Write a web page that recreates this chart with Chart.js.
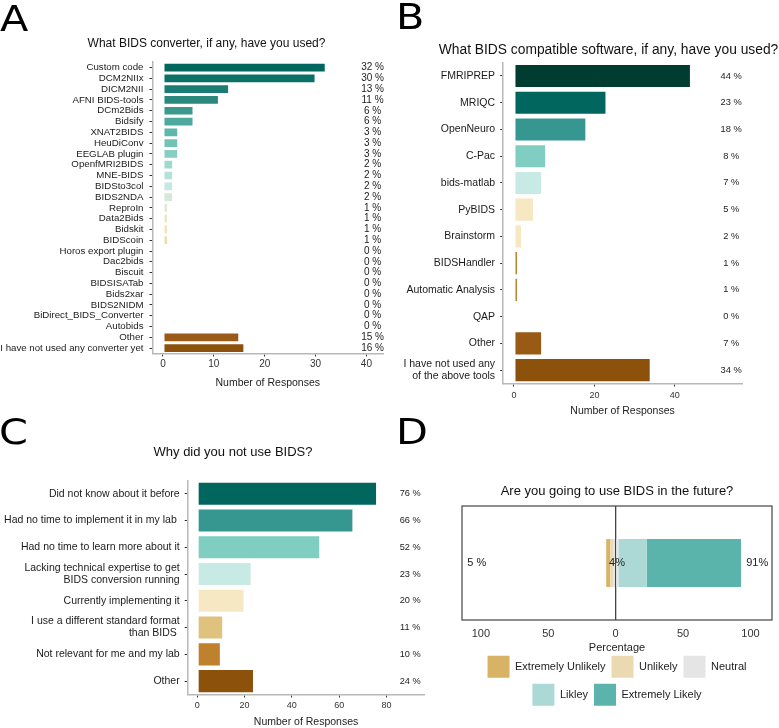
<!DOCTYPE html>
<html><head><meta charset="utf-8">
<script src="https://cdn.jsdelivr.net/npm/chart.js@4.4.1/dist/chart.umd.min.js"></script>
<style>
html,body{margin:0;padding:0;background:#fff;overflow:hidden;width:779px;height:728px;}
#wrap{position:relative;width:779px;height:728px;overflow:hidden;}
canvas{position:absolute;}
.lbl{position:absolute;font-family:"DejaVu Sans",sans-serif;font-size:36px;line-height:36px;color:#000;transform:scaleX(1.15);transform-origin:left top;}
</style></head><body>
<div id="wrap">
<canvas id="cA" width="413" height="395" style="left:0;top:0"></canvas>
<canvas id="cC" width="466" height="328" style="left:0;top:400px"></canvas>
<canvas id="cB" width="437" height="418" style="left:390px;top:0"></canvas>
<canvas id="cD" width="339" height="258" style="left:440px;top:470px"></canvas>
<div class="lbl" style="left:0px;top:1px">A</div>
<div class="lbl" style="left:396px;top:-1px">B</div>
<div class="lbl" style="left:-1px;top:414px">C</div>
<div class="lbl" style="left:396px;top:414px">D</div>
</div>
<script>
// ---------- DATA ----------
const convCategories = ["Custom code","DCM2NIIx","DICM2NII","AFNI BIDS-tools","DCm2Bids","Bidsify","XNAT2BIDS","HeuDiConv","EEGLAB plugin","OpenfMRI2BIDS","MNE-BIDS","BIDSto3col","BIDS2NDA","ReproIn","Data2Bids","Bidskit","BIDScoin","Horos export plugin","Dac2bids","Biscuit","BIDSISATab","Bids2xar","BIDS2NIDM","BiDirect_BIDS_Converter","Autobids","Other","I have not used any converter yet"];
const convCounts  = [32,30,13,11,6,6,3,3,3,2,2,2,2,1,1,1,1,0,0,0,0,0,0,0,0,15,16];
const convPercent = [32,30,13,11,6,6,3,3,3,2,2,2,2,1,1,1,1,0,0,0,0,0,0,0,0,15,16];
const convTicks = [0,10,20,30,40];

const softCategories = ["FMRIPREP","MRIQC","OpenNeuro","C-Pac","bids-matlab","PyBIDS","Brainstorm","BIDSHandler","Automatic Analysis","QAP","Other",["I have not used any","of the above tools"]];
const softCounts  = [44,23,18,8,7,5,2,1,1,0,7,34];
const softPercent = [44,23,18,8,7,5,2,1,1,0,7,34];
const softTicks = [0,20,40];

const whyCategories = ["Did not know about it before","Had no time to implement it in my lab ","Had no time to learn more about it",["Lacking technical expertise to get","BIDS conversion running"],"Currently implementing it",["I use a different standard format","than BIDS "],"Not relevant for me and my lab","Other"];
const whyCounts  = [76,66,52,23,20,11,10,24];
const whyPercent = [76,66,52,23,20,11,10,24];
const whyTicks = [0,20,40,60,80];

const futureLevels = ["Extremely Unlikely","Unlikely","Neutral","Likley","Extremely Likely"];
const futurePercent = [3,2,4,21,70];
const futureSummary = ["5 %","4%","91%"];
const futureTicks = [-100,-50,0,50,100];

// ---------- STYLE ----------
const convColors = ["#01665e","#0d7067","#1b7c73","#2a887e","#3d988e","#4ea89e","#5fb6aa","#72c2b5","#86cfc2","#9ddacd","#b3e2d8","#c5e9e1","#d4e9d9","#e2e9d2","#ede7ca","#f3e2bc","#f1dbae","#e0c27f","#d8b365","#c99a4a","#bf812d","#b07020","#a56518","#9c5e14","#965a12","#9a5b17","#8c510a"];
const softColors = ["#003c30","#01665e","#35978f","#80cdc1","#c7eae5","#f6e8c3","#f6e8c3","#bf812d","#bf812d","#a86c1e","#995a16","#8c510a"];
const whyColors = ["#01665e","#35978f","#80cdc1","#c7eae5","#f6e8c3","#dfc27d","#bf812d","#8c510a"];
const futureColors = ["#d8b365","#ebd9b1","#e5e5e5","#acd9d5","#5ab4ac"];

Chart.defaults.font.family = '"Liberation Sans", Arial, sans-serif';
Chart.defaults.color = '#222';
Chart.defaults.animation = false;

const AXIS = '#b8b8b8', TICK = '#333';

const pctPlugin = {
  id: 'pct',
  afterDatasetsDraw(chart, args, opts) {
    if (!opts || !opts.values) return;
    const ctx = chart.ctx, xs = chart.scales.x, ys = chart.scales.y;
    ctx.save();
    ctx.font = opts.size + 'px "Liberation Sans", Arial, sans-serif';
    ctx.fillStyle = opts.color || '#222';
    ctx.textAlign = 'center'; ctx.textBaseline = 'middle';
    opts.values.forEach((v, i) => {
      const t = opts.items ? opts.items[i] : (v + ' %');
      const x = xs.getPixelForValue(opts.at !== undefined ? opts.at : opts.xs[i]);
      const y = ys.getPixelForValue(opts.row !== undefined ? opts.row : i);
      ctx.fillText(t, x, y);
    });
    ctx.restore();
  }
};

const boxPlugin = {
  id: 'box',
  afterDraw(chart, args, opts) {
    if (!opts || !opts.show) return;
    const {left, top, right, bottom} = chart.chartArea;
    const ctx = chart.ctx;
    ctx.save(); ctx.strokeStyle = opts.color; ctx.lineWidth = opts.width;
    ctx.strokeRect(left, top, right - left, bottom - top);
    ctx.restore();
  }
};

function hbar(canvasId, cfg) {
  return new Chart(document.getElementById(canvasId), {
    type: 'bar',
    data: {
      labels: cfg.labels,
      datasets: [{
        data: cfg.values,
        backgroundColor: cfg.colors,
        borderColor: 'rgba(255,255,255,0.45)',
        borderWidth: c => (c.raw > 0 ? 1 : 0),
        borderSkipped: false,
        barPercentage: 0.9,
        categoryPercentage: 1
      }]
    },
    options: {
      indexAxis: 'y',
      responsive: false,
      animation: false,
      layout: {padding: 0},
      scales: {
        x: {
          type: 'linear', min: cfg.xmin, max: cfg.xmax,
          afterBuildTicks: s => { s.ticks = cfg.ticks.map(v => ({value: v})); },
          grid: {drawOnChartArea: false, drawTicks: true, tickLength: 3, tickColor: TICK, tickWidth: 1},
          border: {display: true, color: AXIS, width: 1.5},
          ticks: {padding: cfg.xTickPad, color: '#333', font: {size: cfg.xTickSize}, maxRotation: 0, autoSkip: false},
          title: {display: true, text: 'Number of Responses', color: '#222', font: {size: 10.5}, padding: {top: 0, bottom: cfg.xTitlePad}},
          afterFit: s => { s.height = cfg.xHeight; }
        },
        y: {
          type: 'category', offset: true,
          grid: {drawOnChartArea: false, drawTicks: true, tickLength: 3, tickColor: TICK, tickWidth: 1, offset: false},
          border: {display: true, color: AXIS, width: 1.5},
          ticks: {autoSkip: false, padding: cfg.yTickPad, color: '#1a1a1a', font: {size: cfg.yTickSize, lineHeight: 1.15}},
          afterFit: s => { s.width = cfg.yWidth; }
        },
        // empty right-hand margin so the full-width title centres where the reference puts it
        yR: {
          type: 'category', position: 'right', display: true,
          grid: {display: false}, border: {display: false}, ticks: {display: false},
          afterFit: s => { s.width = cfg.rightMargin; }
        }
      },
      plugins: {
        legend: {display: false},
        tooltip: {enabled: false},
        title: {display: true, text: cfg.title, color: '#111', font: {size: cfg.titleSize, weight: 'normal'}, padding: cfg.titlePad},
        pct: {values: cfg.pct, at: cfg.pctAt, size: cfg.pctSize, color: '#222'}
      }
    },
    plugins: [pctPlugin]
  });
}

// Panel A
hbar('cA', {
  labels: convCategories, values: convCounts, colors: convColors, pct: convPercent, pctAt: 41.2, pctSize: 10,
  ticks: convTicks, xmin: -2.06, xmax: 43.26,
  rightMargin: 30,
  xHeight: 41.5, xTickPad: 2, xTickSize: 10, xTitlePad: 5.5,
  yWidth: 152.5, yTickPad: 6, yTickSize: 9.7,
  title: 'What BIDS converter, if any, have you used?', titleSize: 12, titlePad: {top: 36.3, bottom: 11.5}
});

// Panel B
hbar('cB', {
  labels: softCategories, values: softCounts, colors: softColors, pct: softPercent, pctAt: 54, pctSize: 9.3,
  ticks: softTicks, xmin: -2.7, xmax: 56.7,
  rightMargin: 85,
  xHeight: 34.5, xTickPad: 3.5, xTickSize: 9, xTitlePad: 1,
  yWidth: 113.1, yTickPad: 5, yTickSize: 10.5,
  title: 'What BIDS compatible software, if any, have you used?', titleSize: 13.8, titlePad: {top: 41.7, bottom: 4.3}
});

// Panel C
hbar('cC', {
  labels: whyCategories, values: whyCounts, colors: whyColors, pct: whyPercent, pctAt: 90, pctSize: 9.2,
  ticks: whyTicks, xmin: -4, xmax: 96,
  rightMargin: 41.6,
  xHeight: 33.5, xTickPad: 2.5, xTickSize: 9, xTitlePad: 0,
  yWidth: 187.7, yTickPad: 5, yTickSize: 10.5,
  title: 'Why did you not use BIDS?', titleSize: 13, titlePad: {top: 44.2, bottom: 20.5}
});

// Panel D (diverging stacked bar)
const legendRank = {};
futureLevels.forEach((l, i) => legendRank[l] = i);
new Chart(document.getElementById('cD'), {
  type: 'bar',
  data: {
    labels: ['BIDS'],
    datasets: [
      {label: futureLevels[2], data: [-futurePercent[2] / 2], backgroundColor: futureColors[2]},
      {label: futureLevels[1], data: [-futurePercent[1]], backgroundColor: futureColors[1]},
      {label: futureLevels[0], data: [-futurePercent[0]], backgroundColor: futureColors[0]},
      {label: futureLevels[2] + ' ', data: [futurePercent[2] / 2], backgroundColor: futureColors[2]},
      {label: futureLevels[3], data: [futurePercent[3]], backgroundColor: futureColors[3]},
      {label: futureLevels[4], data: [futurePercent[4]], backgroundColor: futureColors[4]}
    ].map(d => Object.assign(d, {borderWidth: 0, barPercentage: 0.42, categoryPercentage: 1}))
  },
  options: {
    indexAxis: 'y', responsive: false, animation: false,
    layout: {padding: {left: 22, right: 7, top: 0, bottom: 12.3}},
    scales: {
      x: {
        stacked: true, min: -114, max: 116,
        afterBuildTicks: s => { s.ticks = futureTicks.map(v => ({value: v})); },
        grid: {drawOnChartArea: true, drawTicks: false, color: c => (c.tick && c.tick.value === 0 ? '#444' : 'rgba(0,0,0,0)'), lineWidth: 1.3},
        border: {display: false},
        ticks: {padding: 7, color: '#333', font: {size: 11}, callback: v => Math.abs(v), maxRotation: 0, autoSkip: false},
        title: {display: true, text: 'Percentage', color: '#222', font: {size: 11}, padding: {top: 0, bottom: -5}},
        afterFit: s => { s.height = 29.7; }
      },
      y: {stacked: true, display: false}
    },
    plugins: {
      tooltip: {enabled: false},
      title: {display: true, text: 'Are you going to use BIDS in the future?', color: '#111', font: {size: 13, weight: 'normal'}, padding: {top: 13.2, bottom: 7.2}},
      legend: {
        position: 'bottom',
        labels: {
          boxWidth: 22, boxHeight: 22, padding: 6, color: '#222', font: {size: 11},
          filter: item => item.text !== 'Neutral ',
          sort: (a, b) => legendRank[a.text] - legendRank[b.text]
        }
      },
      box: {show: true, color: '#444', width: 1.2},
      pct: {values: futureSummary, items: futureSummary, xs: [-103, 1, 105], row: 0, size: 11, color: '#222'}
    }
  },
  plugins: [pctPlugin, boxPlugin]
});
</script>
</body></html>
